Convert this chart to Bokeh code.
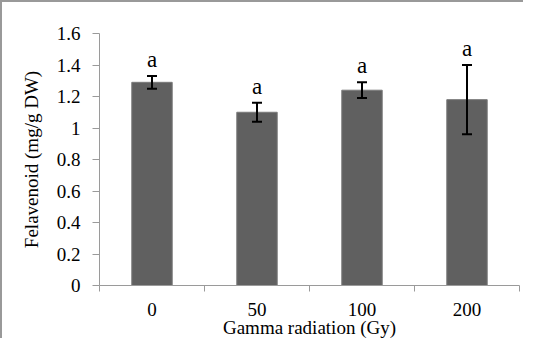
from bokeh.plotting import figure
from bokeh.models import ColumnDataSource, FixedTicker, Whisker, TeeHead
from bokeh.core.properties import value
from bokeh.embed import file_html
from bokeh.resources import INLINE

categories = ["0", "50", "100", "200"]
means = [1.29, 1.10, 1.24, 1.18]
errors = [0.04, 0.06, 0.05, 0.22]
letters = ["a", "a", "a", "a"]
y_ticks = [0, 0.2, 0.4, 0.6, 0.8, 1.0, 1.2, 1.4, 1.6]
x_title = "Gamma radiation (Gy)"
y_title = "Felavenoid (mg/g DW)"

xs = [i + 0.5 for i in range(len(categories))]
src = ColumnDataSource(dict(
    x=xs, top=means,
    upper=[m + e for m, e in zip(means, errors)],
    lower=[m - e for m, e in zip(means, errors)],
    lab=letters,
))

FONT = "Liberation Serif"
GRAY = "#9a9a9a"

p = figure(width=523, height=338, output_backend="svg", toolbar_location=None,
           x_range=(0, len(categories)), y_range=(0, 1.6),
           min_border_left=97, min_border_right=6, min_border_top=31, min_border_bottom=50)
p.styles = {"border-top": "2px solid #999999", "border-left": "2px solid #999999"}
p.outline_line_color = None
p.xgrid.grid_line_color = None
p.ygrid.grid_line_color = None

p.vbar(x="x", top="top", width=0.385, bottom=0, source=src,
       fill_color="#606060", line_color="#7a7a7a", line_width=1)

w = Whisker(base="x", upper="upper", lower="lower", source=src,
            line_color="black", line_width=2, level="overlay",
            upper_head=TeeHead(size=10, line_color="black", line_width=2),
            lower_head=TeeHead(size=10, line_color="black", line_width=2))
p.add_layout(w)

p.text(x="x", y="upper", text="lab", source=src, y_offset=-4,
       text_align="center", text_baseline="bottom",
       text_font=value(FONT), text_font_size="23px", text_color="black")

p.xaxis.ticker = FixedTicker(ticks=xs, minor_ticks=list(range(len(categories) + 1)))
p.xaxis.major_label_overrides = {x: c for x, c in zip(xs, categories)}
p.xaxis.major_tick_line_color = None
p.xaxis.minor_tick_line_color = GRAY
p.xaxis.minor_tick_in = 0
p.xaxis.minor_tick_out = 6
p.xaxis.axis_line_color = GRAY
p.xaxis.major_label_standoff = 11
p.xaxis.axis_label = x_title
p.xaxis.axis_label_standoff = -2

p.yaxis.ticker = FixedTicker(ticks=y_ticks)
p.yaxis.major_label_overrides = {t: ("0" if t == 0 else ("1" if t == 1 else f"{t:.1f}")) for t in y_ticks}
p.yaxis.minor_tick_line_color = None
p.yaxis.major_tick_line_color = GRAY
p.yaxis.major_tick_in = 0
p.yaxis.major_tick_out = 7
p.yaxis.axis_line_color = GRAY
p.yaxis.major_label_standoff = 12
p.yaxis.axis_label = y_title
p.yaxis.axis_label_standoff = 12

for ax in (p.xaxis, p.yaxis):
    ax.major_label_text_font = FONT
    ax.major_label_text_font_size = "19px"
    ax.major_label_text_color = "black"
    ax.axis_label_text_font = FONT
    ax.axis_label_text_font_size = "19px"
    ax.axis_label_text_font_style = "normal"
    ax.axis_label_text_color = "black"

open("out.html", "w").write(file_html(p, INLINE))
